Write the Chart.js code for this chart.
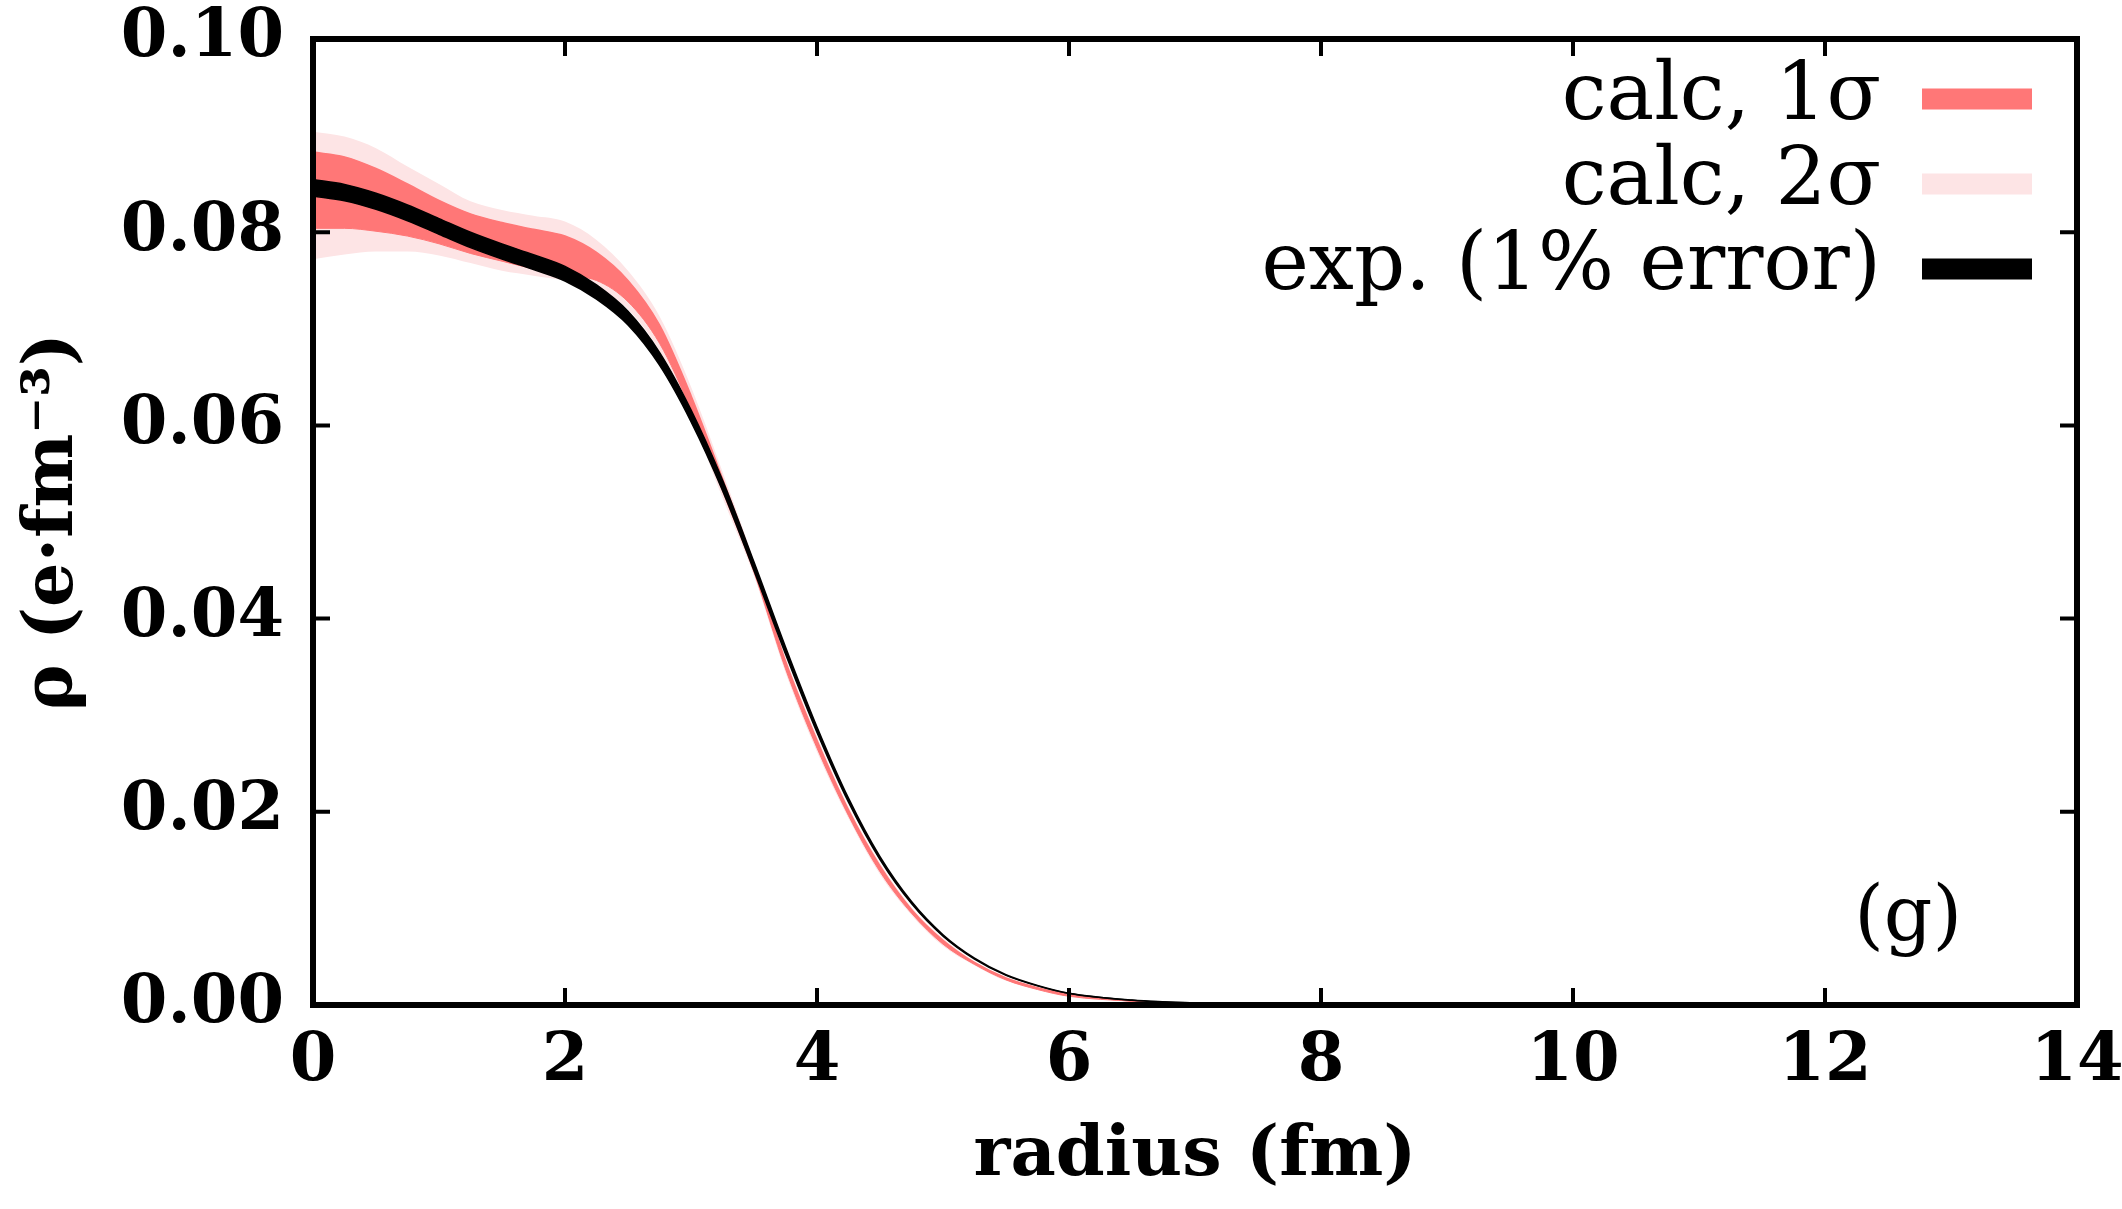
<!DOCTYPE html>
<html>
<head>
<meta charset="utf-8">
<script src="https://cdn.jsdelivr.net/npm/chart.js@4.4.1/dist/chart.umd.min.js"></script>
<style>
  html, body { margin: 0; padding: 0; background: #fff; }
</style>
</head>
<body>
<canvas id="myChart" width="2122" height="1209"></canvas>
<script>
// radius grid (fm)
const radius = [0, 0.25, 0.5, 0.75, 1, 1.25, 1.5, 1.75, 2, 2.25, 2.5, 2.75, 3, 3.25, 3.5, 3.75,
                4, 4.25, 4.5, 4.75, 5, 5.25, 5.5, 5.75, 6, 6.5, 7, 8, 10, 12, 14];

// experimental charge density (e fm^-3), drawn with 1% error
const expRho = [0.0846, 0.0841, 0.0832, 0.0820, 0.0806, 0.0792, 0.0780, 0.0769, 0.0757, 0.0738,
                0.0711, 0.0669, 0.0610, 0.0538, 0.0454, 0.0367, 0.0285, 0.0212, 0.0152, 0.0106,
                0.0072, 0.0048, 0.0031, 0.0020, 0.0012, 0.0005, 0.0002, 0, 0, 0, 0];
const expError = 0.01;

// calculated band, 1 sigma
const calc1Hi = [0.0883, 0.0878, 0.0866, 0.0850, 0.0833, 0.0819, 0.0810, 0.0803, 0.0796, 0.0779,
                 0.0750, 0.0704, 0.0631, 0.0545, 0.0456, 0.0356, 0.0274, 0.0202, 0.0144, 0.0099,
                 0.0067, 0.0044, 0.0028, 0.0018, 0.0011, 0.0004, 0.0001, 0, 0, 0, 0];
const calc1Lo = [0.0804, 0.0804, 0.0801, 0.0796, 0.0788, 0.0778, 0.0770, 0.0762, 0.0755, 0.0750,
                 0.0728, 0.0685, 0.0616, 0.0532, 0.0448, 0.0348, 0.0266, 0.0196, 0.0138, 0.0095,
                 0.0063, 0.0042, 0.0026, 0.0016, 0.0009, 0.0004, 0.0001, 0, 0, 0, 0];

// calculated band, 2 sigma
const calc2Hi = [0.0904, 0.0899, 0.0887, 0.0868, 0.0850, 0.0832, 0.0823, 0.0817, 0.0811, 0.0792,
                 0.0760, 0.0713, 0.0640, 0.0552, 0.0460, 0.0360, 0.0278, 0.0205, 0.0147, 0.0101,
                 0.0069, 0.0045, 0.0029, 0.0018, 0.0011, 0.0004, 0.0001, 0, 0, 0, 0];
const calc2Lo = [0.0772, 0.0777, 0.0780, 0.0780, 0.0776, 0.0768, 0.0760, 0.0755, 0.0750, 0.0742,
                 0.0720, 0.0677, 0.0609, 0.0525, 0.0444, 0.0344, 0.0262, 0.0193, 0.0135, 0.0093,
                 0.0061, 0.0041, 0.0025, 0.0016, 0.0009, 0.0004, 0.0001, 0, 0, 0, 0];

const xTicks = [0, 2, 4, 6, 8, 10, 12, 14];
const yTicks = [0.00, 0.02, 0.04, 0.06, 0.08, 0.10];
const panelLabel = '(g)';

const RED = 'rgb(255, 119, 119)';
const PINK = 'rgb(253, 228, 229)';
const SERIF = "'DejaVu Serif', serif";

const pts = arr => radius.map((r, i) => ({x: r, y: arr[i]}));

// dataset 0 is drawn on top, so black first, pink last
const datasets = [
    {label: 'exp. (1% error)', data: pts(expRho.map(v => v * (1 + expError))), fill: '+1',
     backgroundColor: '#000', borderColor: '#000', borderWidth: 1.5},
    {label: '', data: pts(expRho.map(v => v * (1 - expError))), fill: false,
     borderColor: '#000', borderWidth: 1.5},
    {label: 'calc, 1σ', data: pts(calc1Hi), fill: '+1',
     backgroundColor: RED, borderColor: RED, borderWidth: 1.5},
    {label: '', data: pts(calc1Lo), fill: false, borderColor: RED, borderWidth: 1},
    {label: 'calc, 2σ', data: pts(calc2Hi), fill: '+1',
     backgroundColor: PINK, borderColor: 'rgba(0,0,0,0)', borderWidth: 0},
    {label: '', data: pts(calc2Lo), fill: false, borderColor: 'rgba(0,0,0,0)', borderWidth: 0}
];
datasets.forEach(d => {
    d.pointRadius = 0;
    d.cubicInterpolationMode = 'monotone';
});

// inward ticks on all four sides plus the frame
const frameTicks = {
    id: 'frameTicks',
    afterDatasetsDraw(chart) {
        const {ctx, chartArea: a, scales: {x, y}} = chart;
        ctx.save();
        ctx.strokeStyle = '#000';
        ctx.lineWidth = 4;
        x.ticks.forEach(t => {
            if (t.value <= x.min || t.value >= x.max) return;
            const px = x.getPixelForValue(t.value);
            ctx.beginPath();
            ctx.moveTo(px, a.bottom); ctx.lineTo(px, a.bottom - 17);
            ctx.moveTo(px, a.top); ctx.lineTo(px, a.top + 17);
            ctx.stroke();
        });
        y.ticks.forEach(t => {
            if (t.value <= y.min + 1e-9 || t.value >= y.max - 1e-9) return;
            const py = y.getPixelForValue(t.value);
            ctx.beginPath();
            ctx.moveTo(a.left, py); ctx.lineTo(a.left + 17, py);
            ctx.moveTo(a.right, py); ctx.lineTo(a.right - 17, py);
            ctx.stroke();
        });
        ctx.lineWidth = 6;
        ctx.strokeRect(a.left, a.top, a.right - a.left, a.bottom - a.top);
        ctx.restore();
    }
};

// key in the top right corner: text then a thick swatch
const keyBox = {
    id: 'keyBox',
    afterDraw(chart) {
        const {ctx, chartArea: a, scales: {x, y}} = chart;
        const entries = [datasets[2], datasets[4], datasets[0]];
        ctx.save();
        ctx.font = "80px " + SERIF;
        ctx.textAlign = 'right';
        ctx.textBaseline = 'alphabetic';
        entries.forEach((d, i) => {
            const cy = a.top + 60 + i * 85;
            ctx.fillStyle = '#000';
            ctx.fillText(d.label, a.right - 196, cy + 20);
            ctx.fillStyle = d.backgroundColor;
            ctx.fillRect(a.right - 155, cy - 10.5, 110, 21);
        });
        ctx.textAlign = 'center';
        ctx.textBaseline = 'middle';
        ctx.fillStyle = '#000';
        ctx.font = "76px " + SERIF;
        ctx.fillText(panelLabel, x.getPixelForValue(12.66), y.getPixelForValue(0.0088));
        ctx.restore();
    }
};

new Chart(document.getElementById('myChart'), {
    type: 'line',
    data: {datasets: datasets},
    options: {
        responsive: false,
        animation: false,
        devicePixelRatio: 1,
        layout: {padding: {top: 39, right: 45, left: 0, bottom: 0}},
        plugins: {
            legend: {display: false},
            tooltip: {enabled: false}
        },
        scales: {
            x: {
                type: 'linear',
                min: 0,
                max: 14,
                afterBuildTicks: s => { s.ticks = xTicks.map(v => ({value: v})); },
                afterFit: s => { s.height = 204; s.paddingLeft = 0; s.paddingRight = 0; },
                grid: {display: false, drawTicks: false},
                border: {display: false},
                ticks: {
                    color: '#000',
                    padding: 17,
                    maxRotation: 0,
                    font: {family: SERIF, size: 67, weight: 'bold'}
                },
                title: {
                    display: true,
                    text: 'radius (fm)',
                    color: '#000',
                    padding: {top: 0, bottom: 10},
                    font: {family: SERIF, size: 70, weight: 'bold'}
                }
            },
            y: {
                min: 0,
                max: 0.1,
                afterBuildTicks: s => { s.ticks = yTicks.map(v => ({value: v})); },
                afterFit: s => { s.width = 313; s.paddingTop = 0; s.paddingBottom = 0; },
                grid: {display: false, drawTicks: false},
                border: {display: false},
                ticks: {
                    color: '#000',
                    padding: 29,
                    callback: v => v.toFixed(2),
                    font: {family: SERIF, size: 67, weight: 'bold'}
                },
                title: {
                    display: true,
                    text: 'ρ (e·fm⁻³)',
                    color: '#000',
                    padding: {top: 12, bottom: 0},
                    font: {family: SERIF, size: 70, weight: 'bold'}
                }
            }
        }
    },
    plugins: [frameTicks, keyBox]
});
</script>
</body>
</html>
